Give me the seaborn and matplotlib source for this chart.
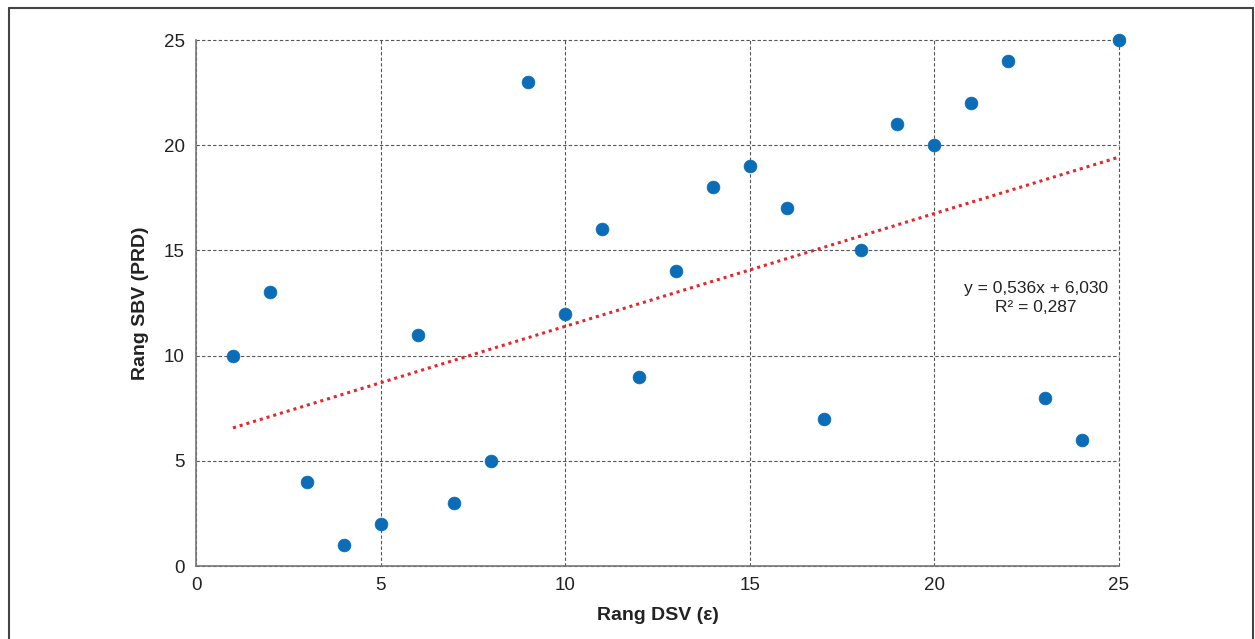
import numpy as np
import pandas as pd
from matplotlib import pyplot as plt
from matplotlib.lines import Line2D
import seaborn as sns

# Ranks
rang_dsv = [1, 2, 3, 4, 5, 6, 7, 8, 9, 10, 11, 12, 13,
            14, 15, 16, 17, 18, 19, 20, 21, 22, 23, 24, 25]
rang_sbv = [10, 13, 4, 1, 2, 11, 3, 5, 23, 12, 16, 9, 14,
            18, 19, 17, 7, 15, 21, 20, 22, 24, 8, 6, 25]
x_ticks = [0, 5, 10, 15, 20, 25]
y_ticks = [0, 5, 10, 15, 20, 25]

df = pd.DataFrame({'Rang DSV': rang_dsv, 'Rang SBV': rang_sbv})

sns.set_style('white')
plt.rcParams['font.family'] = ['Liberation Sans', 'DejaVu Sans']

fig = plt.figure(figsize=(12.55, 6.39), dpi=100)
ax = fig.add_axes([0.1562, 0.1142, 0.7354, 0.8232])

# Trend line (linear fit) in red dots
sns.regplot(x='Rang DSV', y='Rang SBV', data=df, scatter=False, ci=None, ax=ax,
            line_kws={'color': '#e8252a', 'linestyle': (0, (1, 1.3)), 'linewidth': 2.2})
sns.scatterplot(x='Rang DSV', y='Rang SBV', data=df, ax=ax, color='#0b6db7',
                s=85, edgecolor='#0b6db7', linewidth=0.5, zorder=3, clip_on=False)

slope, intercept = np.polyfit(rang_dsv, rang_sbv, 1)
r2 = np.corrcoef(rang_dsv, rang_sbv)[0, 1] ** 2
eq = f"y = {slope:.3f}x + {intercept:.3f}".replace('.', ',')
r2_txt = f"R² = {r2:.3f}".replace('.', ',')
ax.text(22.75, 12.75, eq + "\n" + r2_txt, ha='center', va='center',
        fontsize=12.5, color='#222222', linespacing=1.3)

ax.set_xlim(0, 25)
ax.set_ylim(0, 25)
ax.set_xticks(x_ticks)
ax.set_yticks(y_ticks)
ax.tick_params(axis='both', length=0, labelsize=13.5, colors='#222222', pad=8)
ax.grid(True, linestyle=(0, (3, 2)), color='#555555', linewidth=0.8)
for gl in ax.get_xgridlines() + ax.get_ygridlines():
    gl.set_clip_on(False)
ax.set_axisbelow(True)

for side in ['top', 'right']:
    ax.spines[side].set_visible(False)
for side in ['left', 'bottom']:
    ax.spines[side].set_color('#777777')
    ax.spines[side].set_linewidth(1.2)

ax.set_xlabel('Rang DSV (ε)', fontsize=14, fontweight='bold', color='#222222', labelpad=9)
ax.set_ylabel('Rang SBV (PRD)', fontsize=14, fontweight='bold', color='#222222', labelpad=11)

# Outer frame (bottom edge runs off the image)
frame_kw = dict(transform=fig.transFigure, color='#444444', linewidth=1.5)
fig.add_artist(Line2D([0.0068, 0.0068], [0.0, 0.9875], **frame_kw))
fig.add_artist(Line2D([0.0068, 0.9984], [0.9875, 0.9875], **frame_kw))
fig.add_artist(Line2D([0.9984, 0.9984], [0.0, 0.9875], **frame_kw))

fig.savefig('out.png', dpi=100)
